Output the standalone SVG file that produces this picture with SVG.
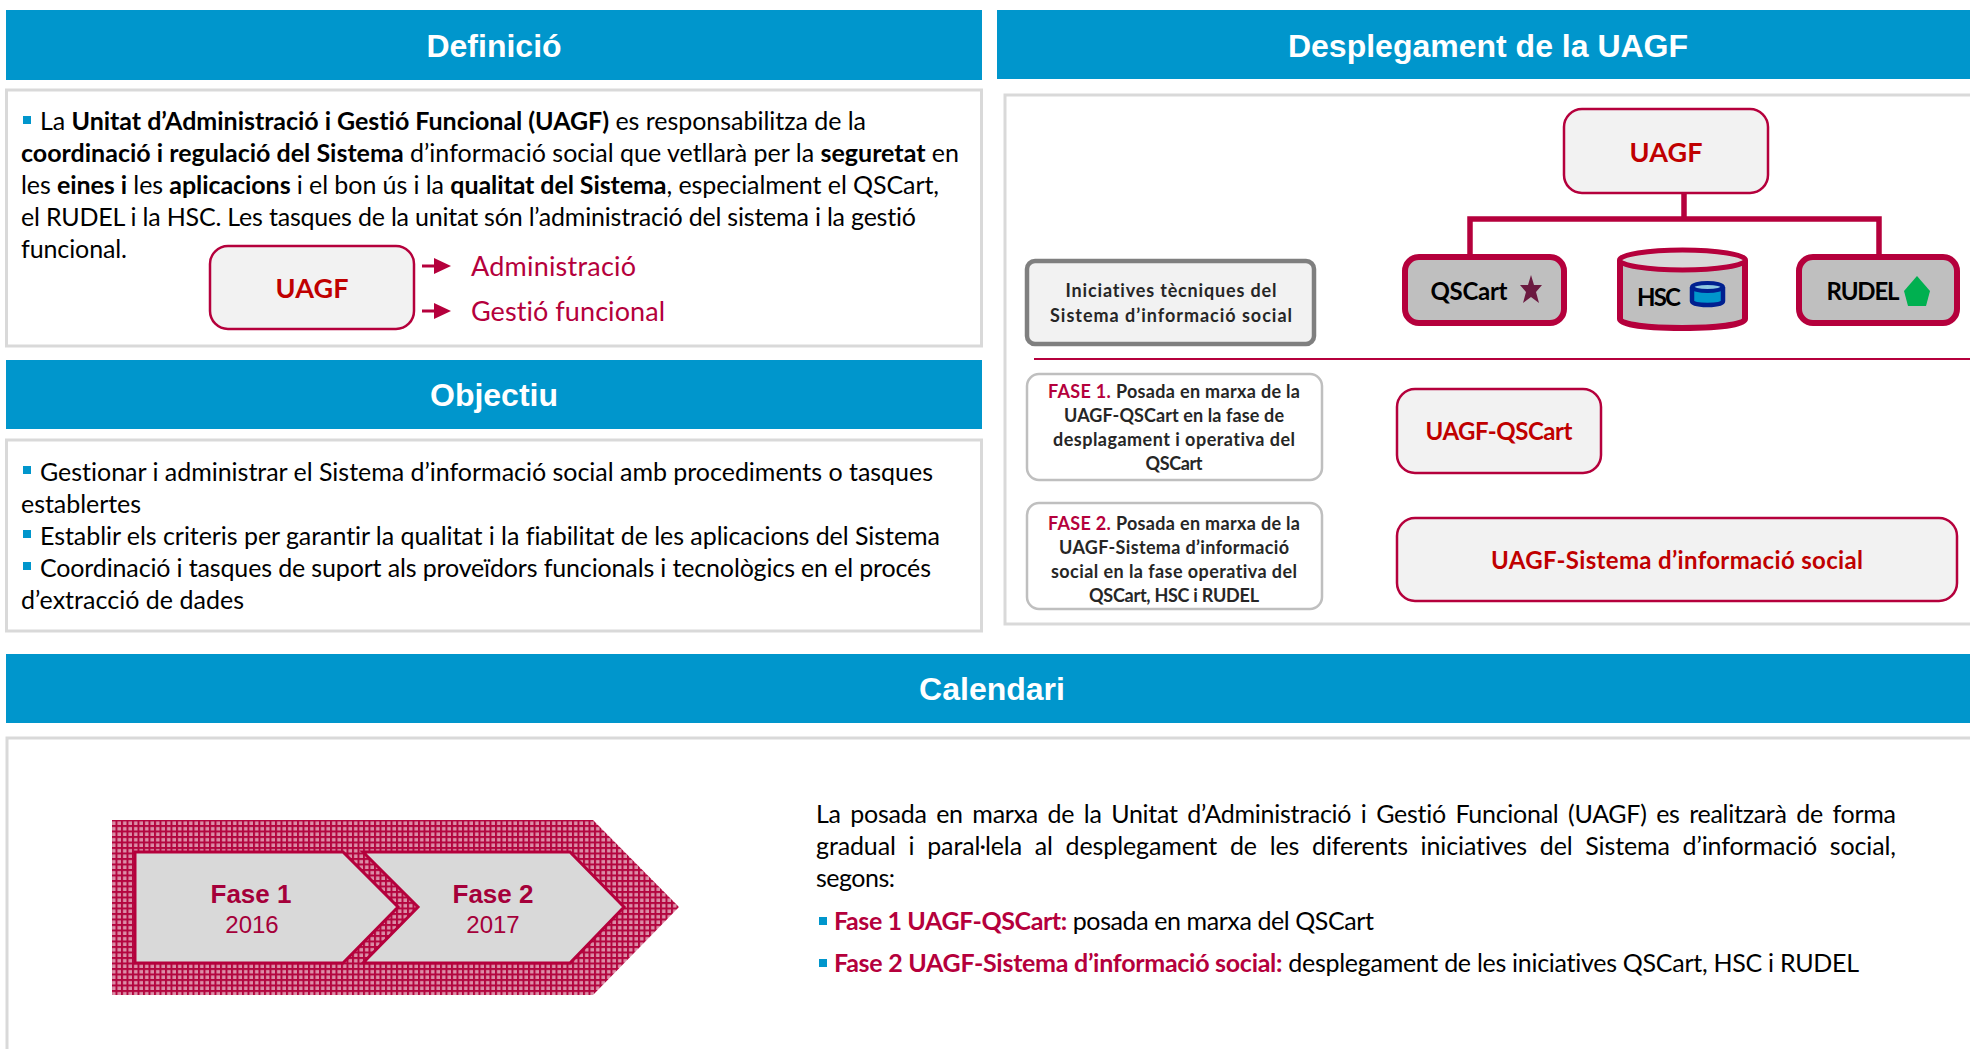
<svg xmlns="http://www.w3.org/2000/svg" width="1970" height="1049" viewBox="0 0 1970 1049">
<defs>
<style>
text{font-family:Lato,"Open Sans",sans-serif;font-variant-ligatures:none}
.h{font-family:"Liberation Sans",Arial,sans-serif;font-weight:700;font-size:32px;fill:#fff;text-anchor:middle}
.hb{fill:#0096cc}
.pb{fill:#fff;stroke:#d9d9d9;stroke-width:3}
.t{font-size:25px;fill:#000}
.b{font-weight:700}
.bu{fill:#0096cc}
.r{fill:#b5003c}
.rd{fill:#c00000;font-weight:700;text-anchor:middle}
.box{fill:#f2f2f2;stroke:#b5003c;stroke-width:2.500}
.nd{fill:#bfbfbf;stroke:#b5003c;stroke-width:6}
.s{font-size:18px;font-weight:700;fill:#262626;text-anchor:middle}
.fb{fill:#fff;stroke:#bfbfbf;stroke-width:2.500}
.blk{font-size:24px;font-weight:700;fill:#000;text-anchor:middle}
.ar{fill:none;stroke:#b5003c;stroke-width:3}
.cn{fill:none;stroke:#b5003c;stroke-width:5.500}
.ff{font-family:"Liberation Sans",Arial,sans-serif;fill:#a5003a;text-anchor:middle}
</style>
<pattern id="hat" width="5.500" height="5.500" patternUnits="userSpaceOnUse">
<rect width="5.500" height="5.500" fill="#dc8fa8"/>
<rect width="5.500" height="2" fill="#b3063f"/>
<rect width="2" height="5.500" fill="#b3063f"/>
</pattern>
<marker id="ah" markerUnits="userSpaceOnUse" markerWidth="17" markerHeight="16" refX="6" refY="8" orient="auto">
<path d="M0 0L17 8L0 16z" fill="#b5003c"/>
</marker>
</defs>
<rect width="1970" height="1049" fill="#fff"/>

<g id="definicio">
<rect class="hb" x="6" y="10" width="976" height="70"/>
<text class="h" x="494" y="57">Definició</text>
<rect class="pb" x="6.500" y="90" width="975" height="256"/>
<rect class="bu" x="23" y="116" width="8" height="8"/>
<text class="t" x="40" y="130" textLength="826">La <tspan class="b">Unitat d’Administració i Gestió Funcional (UAGF)</tspan> es responsabilitza de la</text>
<text class="t" x="21" y="162" textLength="938"><tspan class="b">coordinació i regulació del Sistema</tspan> d’informació social que vetllarà per la <tspan class="b">seguretat</tspan> en</text>
<text class="t" x="21" y="194" textLength="918">les <tspan class="b">eines i</tspan> les <tspan class="b">aplicacions</tspan> i el bon ús i la <tspan class="b">qualitat del Sistema</tspan>, especialment el QSCart,</text>
<text class="t" x="21" y="226" textLength="895">el RUDEL i la HSC. Les tasques de la unitat són l’administració del sistema i la gestió</text>
<text class="t" x="21" y="258" textLength="106">funcional.</text>
</g>
<g id="uagf-def">
<rect class="box" x="210" y="246" width="204" height="83" rx="18"/>
<text class="rd" x="312" y="298" font-size="27" textLength="73">UAGF</text>
</g>
<g id="def-items">
<text class="r" x="471" y="276" font-size="27" textLength="165">Administració</text>
<text class="r" x="471" y="321" font-size="27" textLength="194">Gestió funcional</text>
</g>

<g id="objectiu">
<rect class="hb" x="6" y="360" width="976" height="69"/>
<text class="h" x="494" y="406">Objectiu</text>
<rect class="pb" x="6.500" y="440" width="975" height="191"/>
<rect class="bu" x="23" y="466" width="8" height="8"/>
<text class="t" x="40" y="481" textLength="893">Gestionar i administrar el Sistema d’informació social amb procediments o tasques</text>
<text class="t" x="21" y="513" textLength="120">establertes</text>
<rect class="bu" x="23" y="530" width="8" height="8"/>
<text class="t" x="40" y="545" textLength="900">Establir els criteris per garantir la qualitat i la fiabilitat de les aplicacions del Sistema</text>
<rect class="bu" x="23" y="562" width="8" height="8"/>
<text class="t" x="40" y="577" textLength="891">Coordinació i tasques de suport als proveïdors funcionals i tecnològics en el procés</text>
<text class="t" x="21" y="609" textLength="223">d’extracció de dades</text>
</g>

<g id="desplegament">
<rect class="hb" x="997" y="10" width="973" height="69"/>
<text class="h" x="1488" y="57">Desplegament de la UAGF</text>
<path d="M1970 95H1005V624H1970" fill="#fff" stroke="#d9d9d9" stroke-width="3"/>
<path d="M1034 359H1970" stroke="#b5003c" stroke-width="2" fill="none"/>
</g>

<g id="connectors">
<path class="ar" d="M422 266H440" marker-end="url(#ah)"/>
<path class="ar" d="M422 311H440" marker-end="url(#ah)"/>
<path class="cn" d="M1684 193V219"/>
<path class="cn" d="M1470 256V219H1879V256"/>
</g>

<g id="uagf"><rect class="box" x="1564" y="109" width="204" height="84" rx="18"/><text class="rd" x="1666" y="162" font-size="27" textLength="73">UAGF</text></g>
<g id="iniciatives">
<rect x="1027" y="261" width="287" height="83" rx="8" fill="#f2f2f2" stroke="#7f7f7f" stroke-width="4.500"/>
<text class="s" x="1171" y="297" textLength="211">Iniciatives tècniques del</text>
<text class="s" x="1171" y="322" textLength="242">Sistema d’informació social</text>
</g>
<g id="qscart">
<rect class="nd" x="1405" y="257" width="159" height="66" rx="14"/>
<text class="blk" x="1469" y="300" textLength="77">QSCart</text>
<path d="M1531 275L1534 285H1542L1536 292L1539 303L1531 297L1523 303L1526 292L1520 285H1528z" fill="#6b1a40"/>
</g>
<g id="hsc">
<path class="nd" d="M1620 260V319C1620 325 1650 328 1682 328S1745 325 1745 319V260" stroke-width="5"/>
<ellipse cx="1682.500" cy="260" rx="63" ry="10" fill="#d9d9d9" stroke="#b5003c" stroke-width="5"/>
<text class="blk" x="1659" y="306" textLength="44">HSC</text>
<path d="M1692 287V301C1692 304 1699 305 1707.500 305S1723 304 1723 301V287" fill="#0096cc" stroke="#002090" stroke-width="4.500"/>
<ellipse cx="1707.500" cy="287" rx="15.500" ry="4" fill="#8fc9e3" stroke="#002090" stroke-width="4"/>
</g>
<g id="rudel">
<rect class="nd" x="1799" y="257" width="158" height="66" rx="14"/>
<text class="blk" x="1863" y="300" textLength="73">RUDEL</text>
<path d="M1917 276L1930 291L1926 306H1908L1904 291z" fill="#00b050"/>
</g>
<g id="fase1">
<rect class="fb" x="1027" y="374" width="295" height="106" rx="12"/>
<text class="s" x="1174" y="398" textLength="252"><tspan fill="#b5003c">FASE 1.</tspan> Posada en marxa de la</text>
<text class="s" x="1174" y="422" textLength="220">UAGF-QSCart en la fase de</text>
<text class="s" x="1174" y="446" textLength="242">desplagament i operativa del</text>
<text class="s" x="1174" y="470" textLength="57">QSCart</text>
</g>
<g id="uagf-qscart"><rect class="box" x="1397" y="389" width="204" height="84" rx="18"/><text class="rd" x="1499" y="440" font-size="24" textLength="147">UAGF-QSCart</text></g>
<g id="fase2">
<rect class="fb" x="1027" y="503" width="295" height="106" rx="12"/>
<text class="s" x="1174" y="530" textLength="252"><tspan fill="#b5003c">FASE 2.</tspan> Posada en marxa de la</text>
<text class="s" x="1174" y="554" textLength="230">UAGF-Sistema d’informació</text>
<text class="s" x="1174" y="578" textLength="246">social en la fase operativa del</text>
<text class="s" x="1174" y="602" textLength="170">QSCart, HSC i RUDEL</text>
</g>
<g id="uagf-sistema"><rect class="box" x="1397" y="518" width="560" height="83" rx="18"/><text class="rd" x="1677" y="569" font-size="24" textLength="372">UAGF-Sistema d’informació social</text></g>

<g id="calendari">
<rect class="hb" x="6" y="654" width="1964" height="69"/>
<text class="h" x="992" y="700">Calendari</text>
<path d="M1970 738H7V1049" fill="#fff" stroke="#d9d9d9" stroke-width="3"/>
<text class="t" x="816" y="823" word-spacing="3.500" textLength="1080">La posada en marxa de la Unitat d’Administració i Gestió Funcional (UAGF) es realitzarà de forma</text>
<text class="t" x="816" y="855" word-spacing="6.500" textLength="1080">gradual i paral·lela al desplegament de les diferents iniciatives del Sistema d’informació social,</text>
<text class="t" x="816" y="887" textLength="79">segons:</text>
<rect class="bu" x="819" y="917" width="8" height="8"/>
<text class="t" x="834" y="930" textLength="540"><tspan class="r b">Fase 1 UAGF-QSCart:</tspan> posada en marxa del QSCart</text>
<rect class="bu" x="819" y="959" width="8" height="8"/>
<text class="t" x="834" y="972" textLength="1025"><tspan class="r b">Fase 2 UAGF-Sistema d’informació social:</tspan> desplegament de les iniciatives QSCart, HSC i RUDEL</text>
</g>
<g id="fletxa">
<path d="M112 820H593L679 907L593 995H112z" fill="url(#hat)"/>
</g>
<g id="fase-1">
<path d="M135 852H343L398 907L343 963H135z" fill="#d9d9d9" stroke="#b5003c" stroke-width="3"/>
<text class="ff" x="251" y="903" font-weight="700" font-size="26">Fase 1</text>
<text class="ff" x="252" y="933" font-size="24">2016</text>
</g>
<g id="fase-2">
<path d="M363 852H570L624 907L570 963H363L418 907z" fill="#d9d9d9" stroke="#b5003c" stroke-width="3"/>
<text class="ff" x="493" y="903" font-weight="700" font-size="26">Fase 2</text>
<text class="ff" x="493" y="933" font-size="24">2017</text>
</g>
</svg>
